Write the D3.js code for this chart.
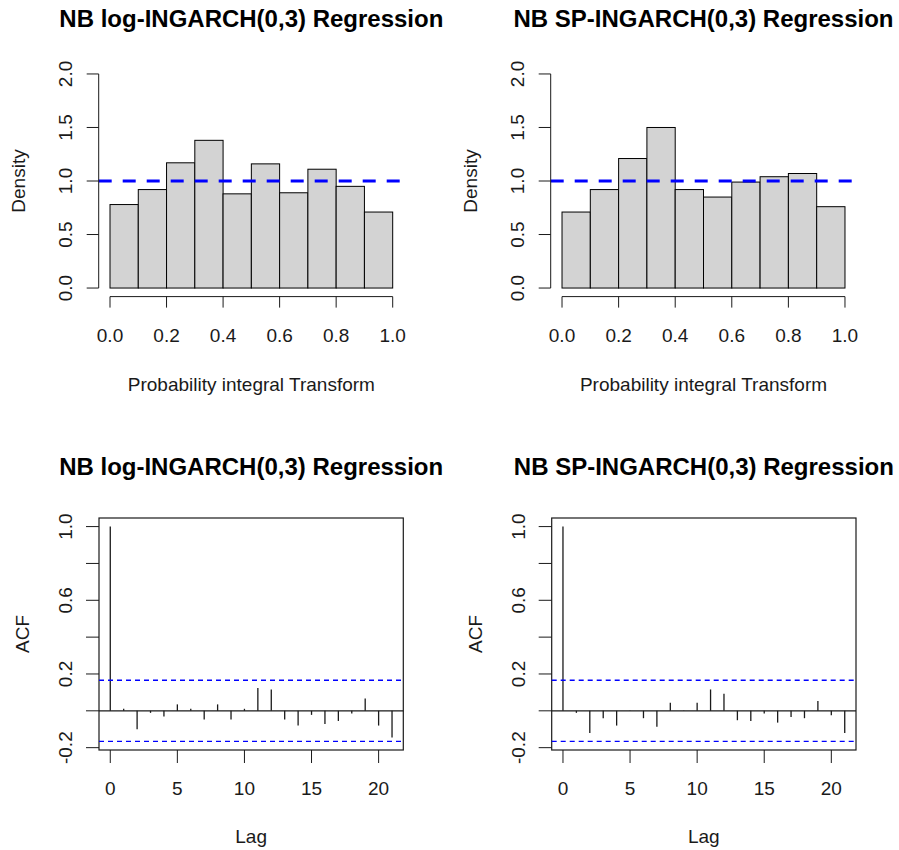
<!DOCTYPE html>
<html>
<head>
<meta charset="utf-8">
<script src="https://d3js.org/d3.v7.min.js"></script>
<style>
  body{ margin:0; background:#fff; }
  svg{ display:block; font-family:"Liberation Sans", Arial, sans-serif; }
  .title{ font-size:24px; font-weight:bold; fill:#000; }
  .lab{ font-size:19px; fill:#1a1a1a; }
</style>
</head>
<body>
<svg id="chart" width="899" height="850"></svg>
<script>
// histogram of PIT values (density per bin)
var breaks = [0, 0.1, 0.2, 0.3, 0.4, 0.5, 0.6, 0.7, 0.8, 0.9, 1.0];
var logDensity = [0.78, 0.92, 1.17, 1.38, 0.88, 1.16, 0.89, 1.11, 0.95, 0.71];
var spDensity  = [0.71, 0.92, 1.21, 1.50, 0.92, 0.85, 0.99, 1.04, 1.07, 0.76];
var histYTicks = [0, 0.5, 1.0, 1.5, 2.0];
var histXTicks = [0, 0.2, 0.4, 0.6, 0.8, 1.0];

// autocorrelation of residuals, lags 0..21
var lags = d3.range(0, 22);
var logAcf = [1.0, 0.011, -0.10, -0.011, -0.031, 0.035, 0.011, -0.047, 0.035, -0.047, 0.011,
              0.124, 0.116, -0.047, -0.08, -0.022, -0.071, -0.055, -0.015, 0.067, -0.08, -0.145];
var spAcf  = [1.0, -0.011, -0.12, -0.04, -0.08, 0.002, -0.04, -0.087, 0.044, 0.002, 0.044,
              0.116, 0.093, -0.051, -0.055, -0.015, -0.064, -0.033, -0.04, 0.053, -0.024, -0.12];
var ciBound = 0.166;
var acfYTicks = [-0.2, 0, 0.2, 0.4, 0.6, 0.8, 1.0];
var acfYLabels = [-0.2, 0.2, 0.6, 1.0];
var acfXTicks = [0, 5, 10, 15, 20];

var titles = ["NB log-INGARCH(0,3) Regression", "NB SP-INGARCH(0,3) Regression"];

var svg = d3.select("#chart");
var ink = "#1a1a1a";

// R style axis range: data range padded by 4% on each side
function padded(lo, hi){
  var d = (hi - lo) * 0.04;
  return [lo - d, hi + d];
}
// one decimal, plain hyphen for negatives like R
function fmt(v){ return v.toFixed(1); }

function drawHist(box, dens, title){
  var g = svg.append("g");
  var x = d3.scaleLinear().domain(padded(0, 1)).range([box.l, box.r]);
  var y = d3.scaleLinear().domain(padded(0, 2)).range([box.b, box.t]);

  g.append("text").attr("class", "title")
    .attr("x", (box.l + box.r) / 2).attr("y", box.t - 38)
    .attr("text-anchor", "middle").text(title);

  g.selectAll("rect.bar").data(dens).enter().append("rect")
    .attr("class", "bar")
    .attr("x", function(d, i){ return x(breaks[i]); })
    .attr("width", function(d, i){ return x(breaks[i + 1]) - x(breaks[i]); })
    .attr("y", function(d){ return y(d); })
    .attr("height", function(d){ return y(0) - y(d); })
    .attr("fill", "#d3d3d3").attr("stroke", "#000").attr("stroke-width", 1);

  // uniform reference
  g.append("line")
    .attr("x1", box.l).attr("x2", box.r)
    .attr("y1", y(1)).attr("y2", y(1))
    .attr("stroke", "#0000ff").attr("stroke-width", 3)
    .attr("stroke-dasharray", "13,11");

  // x axis
  g.append("line").attr("x1", x(0)).attr("x2", x(1))
    .attr("y1", box.b).attr("y2", box.b).attr("stroke", ink);
  histXTicks.forEach(function(t){
    g.append("line").attr("x1", x(t)).attr("x2", x(t))
      .attr("y1", box.b).attr("y2", box.b + 11).attr("stroke", ink);
    g.append("text").attr("class", "lab")
      .attr("x", x(t)).attr("y", box.b + 45)
      .attr("text-anchor", "middle").text(fmt(t));
  });
  g.append("text").attr("class", "lab")
    .attr("x", (box.l + box.r) / 2).attr("y", box.b + 94)
    .attr("text-anchor", "middle").text("Probability integral Transform");

  // y axis
  g.append("line").attr("x1", box.l).attr("x2", box.l)
    .attr("y1", y(0)).attr("y2", y(2)).attr("stroke", ink);
  histYTicks.forEach(function(t){
    g.append("line").attr("x1", box.l - 12).attr("x2", box.l)
      .attr("y1", y(t)).attr("y2", y(t)).attr("stroke", ink);
    g.append("text").attr("class", "lab")
      .attr("transform", "translate(" + (box.l - 27) + "," + y(t) + ") rotate(-90)")
      .attr("text-anchor", "middle").text(fmt(t));
  });
  g.append("text").attr("class", "lab")
    .attr("transform", "translate(" + (box.l - 74) + "," + ((box.t + box.b) / 2) + ") rotate(-90)")
    .attr("text-anchor", "middle").text("Density");
}

function drawAcf(box, vals, title){
  var g = svg.append("g");
  var x = d3.scaleLinear().domain(padded(0, 21)).range([box.l, box.r]);
  var y = d3.scaleLinear().domain(padded(-ciBound, 1)).range([box.b, box.t]);

  g.append("text").attr("class", "title")
    .attr("x", (box.l + box.r) / 2).attr("y", box.t - 43)
    .attr("text-anchor", "middle").text(title);

  g.append("rect").attr("x", box.l).attr("y", box.t)
    .attr("width", box.r - box.l).attr("height", box.b - box.t)
    .attr("fill", "none").attr("stroke", ink).attr("stroke-width", 1.2);

  g.append("line").attr("x1", box.l).attr("x2", box.r)
    .attr("y1", y(0)).attr("y2", y(0)).attr("stroke", ink).attr("stroke-width", 1.2);

  g.selectAll("line.spike").data(vals).enter().append("line")
    .attr("class", "spike")
    .attr("x1", function(d, i){ return x(lags[i]); })
    .attr("x2", function(d, i){ return x(lags[i]); })
    .attr("y1", y(0)).attr("y2", function(d){ return y(d); })
    .attr("stroke", ink).attr("stroke-width", 1.3);

  [ciBound, -ciBound].forEach(function(c){
    g.append("line").attr("x1", box.l).attr("x2", box.r)
      .attr("y1", y(c)).attr("y2", y(c))
      .attr("stroke", "#0000ff").attr("stroke-width", 1.3)
      .attr("stroke-dasharray", "5,4");
  });

  acfXTicks.forEach(function(t){
    g.append("line").attr("x1", x(t)).attr("x2", x(t))
      .attr("y1", box.b).attr("y2", box.b + 13).attr("stroke", ink);
    g.append("text").attr("class", "lab")
      .attr("x", x(t)).attr("y", box.b + 45)
      .attr("text-anchor", "middle").text(t);
  });
  g.append("text").attr("class", "lab")
    .attr("x", (box.l + box.r) / 2).attr("y", box.b + 93)
    .attr("text-anchor", "middle").text("Lag");

  acfYTicks.forEach(function(t){
    g.append("line").attr("x1", box.l - 13).attr("x2", box.l)
      .attr("y1", y(t)).attr("y2", y(t)).attr("stroke", ink);
  });
  acfYLabels.forEach(function(t){
    g.append("text").attr("class", "lab")
      .attr("transform", "translate(" + (box.l - 27) + "," + y(t) + ") rotate(-90)")
      .attr("text-anchor", "middle").text(fmt(t));
  });
  g.append("text").attr("class", "lab")
    .attr("transform", "translate(" + (box.l - 70) + "," + ((box.t + box.b) / 2) + ") rotate(-90)")
    .attr("text-anchor", "middle").text("ACF");
}

drawHist({l: 98.7, r: 404, t: 65.4, b: 296.6}, logDensity, titles[0]);
drawHist({l: 550.7, r: 856.3, t: 65.4, b: 296.6}, spDensity, titles[1]);
drawAcf({l: 99, r: 403.3, t: 518, b: 750}, logAcf, titles[0]);
drawAcf({l: 551.7, r: 856, t: 518, b: 750}, spAcf, titles[1]);
</script>
</body>
</html>
